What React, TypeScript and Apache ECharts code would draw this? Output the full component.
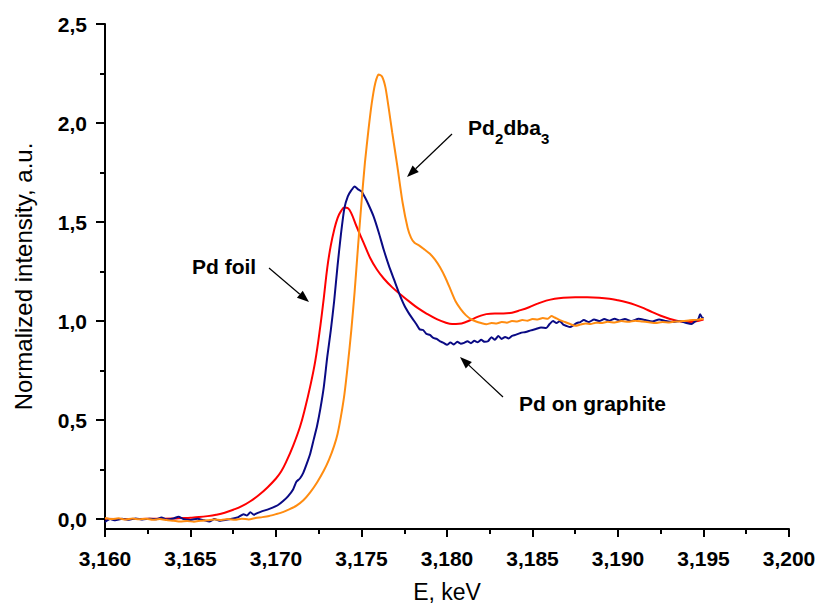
import React, { useEffect, useRef } from "react";
import * as echarts from "echarts";

// Energy (keV) vs normalized intensity
const pdFoil: [number, number][] = [
  [3.16, 0.002], [3.161, 0.001], [3.162, 0.001], [3.163, 0.002], [3.164, 0.003], [3.1645, 0.005],
  [3.165, 0.007], [3.1655, 0.01], [3.166, 0.015], [3.1665, 0.022], [3.167, 0.032], [3.1675, 0.047],
  [3.168, 0.065], [3.1685, 0.09], [3.169, 0.122], [3.1695, 0.16], [3.17, 0.205], [3.1703, 0.24],
  [3.1706, 0.29], [3.171, 0.37], [3.1714, 0.465], [3.1717, 0.56], [3.172, 0.67], [3.1723, 0.8],
  [3.1726, 0.98], [3.1728, 1.12], [3.173, 1.27], [3.1732, 1.38], [3.1734, 1.46], [3.1736, 1.52],
  [3.1738, 1.555], [3.174, 1.573], [3.1742, 1.57], [3.1744, 1.545], [3.1747, 1.48], [3.1751, 1.4],
  [3.1755, 1.32], [3.1759, 1.26], [3.1763, 1.215], [3.1768, 1.17], [3.1773, 1.133], [3.1778, 1.098],
  [3.1783, 1.065], [3.1788, 1.038], [3.1794, 1.01], [3.1799, 0.993], [3.1803, 0.985], [3.1807, 0.986],
  [3.1811, 0.995], [3.1815, 1.01], [3.1819, 1.025], [3.1823, 1.035], [3.1828, 1.038], [3.1833, 1.038],
  [3.1838, 1.042], [3.1843, 1.055], [3.1848, 1.07], [3.1853, 1.088], [3.1858, 1.103], [3.1863, 1.113],
  [3.1868, 1.118], [3.1875, 1.12], [3.1882, 1.12], [3.1889, 1.118], [3.1895, 1.113], [3.19, 1.105],
  [3.1905, 1.095], [3.191, 1.082], [3.1915, 1.065], [3.192, 1.045], [3.1925, 1.027], [3.193, 1.012],
  [3.1935, 1.0], [3.194, 0.995], [3.1945, 0.998], [3.195, 1.008],
];

const pdOnGraphite: [number, number][] = [
  [3.16, -0.015], [3.1603, 0.0], [3.1606, -0.006], [3.161, 0.002], [3.1614, -0.003], [3.1618, 0.003],
  [3.1622, -0.002], [3.1626, 0.002], [3.163, -0.001], [3.1633, 0.008], [3.1636, -0.002], [3.164, 0.003],
  [3.1643, 0.012], [3.1646, 0.0], [3.165, -0.004], [3.1654, 0.002], [3.1658, -0.006], [3.1661, -0.012],
  [3.1664, 0.0], [3.1667, -0.008], [3.1671, -0.003], [3.1675, 0.003], [3.1678, 0.01], [3.1681, 0.025],
  [3.1683, 0.018], [3.1685, 0.035], [3.1687, 0.022], [3.1689, 0.03], [3.1692, 0.04], [3.1695, 0.048],
  [3.1698, 0.058], [3.1701, 0.07], [3.1704, 0.09], [3.1707, 0.115], [3.171, 0.15], [3.1712, 0.19],
  [3.1714, 0.205], [3.1716, 0.235], [3.1718, 0.28], [3.172, 0.33], [3.1722, 0.4], [3.1724, 0.47],
  [3.1726, 0.56], [3.1728, 0.67], [3.173, 0.82], [3.1732, 0.95], [3.1734, 1.1], [3.1736, 1.28],
  [3.1738, 1.44], [3.174, 1.57], [3.1742, 1.63], [3.1744, 1.66], [3.1746, 1.68], [3.1748, 1.665],
  [3.175, 1.655], [3.1752, 1.625], [3.1754, 1.59], [3.1757, 1.53], [3.176, 1.45], [3.1763, 1.36],
  [3.1766, 1.28], [3.1769, 1.21], [3.1772, 1.14], [3.1775, 1.08], [3.1778, 1.035], [3.178, 1.01],
  [3.1782, 0.985], [3.1784, 0.958], [3.1786, 0.955], [3.1788, 0.935], [3.179, 0.93], [3.1792, 0.915],
  [3.1794, 0.91], [3.1796, 0.897], [3.1798, 0.89], [3.18, 0.88], [3.1802, 0.892], [3.1804, 0.882],
  [3.1806, 0.895], [3.1808, 0.886], [3.181, 0.89], [3.1812, 0.898], [3.1814, 0.888], [3.1816, 0.9],
  [3.1818, 0.893], [3.182, 0.905], [3.1822, 0.895], [3.1824, 0.898], [3.1826, 0.918], [3.1828, 0.905],
  [3.183, 0.925], [3.1832, 0.91], [3.1834, 0.92], [3.1836, 0.912], [3.1838, 0.925], [3.184, 0.93],
  [3.1843, 0.94], [3.1846, 0.945], [3.1849, 0.953], [3.1852, 0.96], [3.1855, 0.968], [3.1858, 0.965],
  [3.186, 0.985], [3.1862, 1.0], [3.1864, 0.99], [3.1866, 1.0], [3.1868, 0.982], [3.187, 0.975],
  [3.1872, 0.97], [3.1874, 0.98], [3.1876, 0.99], [3.1878, 0.995], [3.188, 1.005], [3.1883, 0.995],
  [3.1886, 1.008], [3.1889, 1.0], [3.1892, 1.01], [3.1895, 1.002], [3.1898, 1.012], [3.1901, 1.003],
  [3.1904, 1.01], [3.1908, 1.0], [3.1912, 1.012], [3.1916, 1.005], [3.192, 0.998], [3.1924, 1.008],
  [3.1928, 1.0], [3.1932, 0.995], [3.1936, 1.0], [3.194, 0.99], [3.1943, 0.985], [3.1945, 0.998],
  [3.1947, 1.01], [3.1948, 1.035], [3.1949, 1.02], [3.195, 1.015],
];

const pd2dba3: [number, number][] = [
  [3.16, 0.006], [3.1604, 0.0], [3.1608, 0.004], [3.1612, -0.002], [3.1616, 0.003], [3.162, -0.001],
  [3.1624, 0.002], [3.1628, -0.003], [3.1632, 0.0], [3.1636, -0.005], [3.164, -0.008], [3.1644, -0.012],
  [3.1648, -0.01], [3.1652, -0.013], [3.1656, -0.008], [3.166, -0.006], [3.1664, -0.002], [3.1668, -0.004],
  [3.1672, 0.0], [3.1676, -0.003], [3.168, 0.002], [3.1684, -0.002], [3.1688, 0.005], [3.1692, 0.01],
  [3.1696, 0.016], [3.17, 0.025], [3.1704, 0.035], [3.1708, 0.05], [3.1712, 0.068], [3.1716, 0.095],
  [3.172, 0.135], [3.1724, 0.185], [3.1728, 0.245], [3.1731, 0.3], [3.1734, 0.37], [3.1736, 0.43],
  [3.1738, 0.52], [3.174, 0.63], [3.1742, 0.78], [3.1744, 0.95], [3.1746, 1.15], [3.1748, 1.38],
  [3.175, 1.6], [3.1752, 1.8], [3.1754, 1.96], [3.1756, 2.1], [3.1758, 2.2], [3.176, 2.245],
  [3.1762, 2.235], [3.1764, 2.18], [3.1766, 2.07], [3.1768, 1.95], [3.1771, 1.78], [3.1774, 1.6],
  [3.1777, 1.47], [3.1779, 1.42], [3.1781, 1.395], [3.1784, 1.38], [3.1787, 1.36], [3.179, 1.34],
  [3.1793, 1.31], [3.1796, 1.27], [3.1799, 1.22], [3.1802, 1.16], [3.1805, 1.1], [3.1808, 1.06],
  [3.1811, 1.03], [3.1814, 1.01], [3.1817, 0.998], [3.182, 0.99], [3.1823, 0.984], [3.1826, 0.99],
  [3.1829, 0.988], [3.1832, 0.995], [3.1835, 0.992], [3.1838, 1.0], [3.1841, 0.998], [3.1844, 1.005],
  [3.1847, 1.002], [3.185, 1.01], [3.1853, 1.008], [3.1856, 1.015], [3.1859, 1.012], [3.1861, 1.025],
  [3.1863, 1.018], [3.1866, 1.005], [3.1869, 0.995], [3.1872, 0.985], [3.1875, 0.976], [3.1878, 0.982],
  [3.1881, 0.988], [3.1884, 0.985], [3.1887, 0.992], [3.189, 0.99], [3.1894, 0.996], [3.1898, 0.993],
  [3.1902, 1.0], [3.1906, 0.996], [3.191, 1.002], [3.1914, 0.998], [3.1918, 0.994], [3.1922, 0.99],
  [3.1926, 0.995], [3.193, 0.993], [3.1934, 0.998], [3.1938, 1.0], [3.1942, 1.004], [3.1946, 1.006],
  [3.195, 1.012],
];

const yMajorTicks = [0, 0.5, 1.0, 1.5, 2.0, 2.5];
const yMinorTicks = [0.25, 0.75, 1.25, 1.75, 2.25];

const FONT = "'Liberation Sans', Arial, Helvetica, sans-serif";

function arrow(x1: number, y1: number, x2: number, y2: number) {
  const dx = x2 - x1;
  const dy = y2 - y1;
  const len = Math.sqrt(dx * dx + dy * dy);
  const ux = dx / len;
  const uy = dy / len;
  const hl = 12;
  const hw = 4.5;
  const bx = x2 - ux * hl;
  const by = y2 - uy * hl;
  return [
    {
      type: "line",
      shape: { x1, y1, x2: bx, y2: by },
      style: { stroke: "#000", lineWidth: 1.2 },
      silent: true,
    },
    {
      type: "polygon",
      shape: {
        points: [
          [x2, y2],
          [bx - uy * hw, by + ux * hw],
          [bx + uy * hw, by - ux * hw],
        ],
      },
      style: { fill: "#000" },
      silent: true,
    },
  ];
}

function label(text: string, x: number, y: number, size: number) {
  return {
    type: "text",
    x,
    y,
    silent: true,
    style: {
      text,
      fill: "#000",
      font: `bold ${size}px ${FONT}`,
      align: "left",
      verticalAlign: "middle",
    },
  };
}

export default function App() {
  const ref = useRef<HTMLDivElement>(null);

  useEffect(() => {
    if (!ref.current) return;
    const chart = echarts.init(ref.current, null, { renderer: "svg" });
    const comma = (v: number, d: number) => v.toFixed(d).replace(".", ",");

    chart.setOption({
      animation: false,
      backgroundColor: "#fff",
      grid: { left: 105, right: 30, top: 24, bottom: 75, containLabel: false },
      xAxis: {
        type: "value",
        min: 3.16,
        max: 3.2,
        interval: 0.005,
        name: "E, keV",
        nameLocation: "middle",
        nameGap: 51,
        nameTextStyle: { fontFamily: FONT, fontSize: 23, color: "#000" },
        axisLine: { onZero: false, lineStyle: { color: "#000", width: 2 } },
        axisTick: { show: true, length: 8, lineStyle: { color: "#000", width: 2 } },
        minorTick: { show: true, splitNumber: 2, length: 5, lineStyle: { color: "#000", width: 2 } },
        axisLabel: {
          margin: 19,
          fontFamily: FONT,
          fontSize: 21,
          fontWeight: "bold",
          color: "#000",
          formatter: (v: number) => comma(v, 3),
        },
        splitLine: { show: false },
        minorSplitLine: { show: false },
      },
      yAxis: [
        {
          type: "value",
          min: -0.05,
          max: 2.5,
          name: "Normalized intensity, a.u.",
          nameLocation: "middle",
          nameGap: 70,
          nameTextStyle: { fontFamily: FONT, fontSize: 24, color: "#000" },
          axisLine: { show: true, onZero: false, lineStyle: { color: "#000", width: 2 } },
          axisTick: { show: true, length: 9, customValues: yMajorTicks, lineStyle: { color: "#000", width: 2 } },
          axisLabel: {
            margin: 18,
            customValues: yMajorTicks,
            fontFamily: FONT,
            fontSize: 21,
            fontWeight: "bold",
            color: "#000",
            formatter: (v: number) => comma(v, 1),
          },
          splitLine: { show: false },
        },
        {
          type: "value",
          min: -0.05,
          max: 2.5,
          position: "left",
          axisLine: { show: false, onZero: false },
          axisTick: { show: true, length: 5, customValues: yMinorTicks, lineStyle: { color: "#000", width: 2 } },
          axisLabel: { show: false, customValues: yMinorTicks },
          splitLine: { show: false },
        },
      ],
      series: [
        {
          name: "Pd foil",
          type: "line",
          data: pdFoil,
          showSymbol: false,
          symbol: "none",
          smooth: 0.4,
          lineStyle: { color: "#ff0000", width: 2 },
          itemStyle: { color: "#ff0000" },
          z: 2,
        },
        {
          name: "Pd on graphite",
          type: "line",
          data: pdOnGraphite,
          showSymbol: false,
          symbol: "none",
          smooth: 0.2,
          lineStyle: { color: "#0a0a84", width: 2 },
          itemStyle: { color: "#0a0a84" },
          z: 3,
        },
        {
          name: "Pd2dba3",
          type: "line",
          data: pd2dba3,
          showSymbol: false,
          symbol: "none",
          smooth: 0.2,
          lineStyle: { color: "#ff8c10", width: 2 },
          itemStyle: { color: "#ff8c10" },
          z: 4,
        },
      ],
      graphic: [
        label("Pd foil", 192, 266, 21),
        ...arrow(269, 268, 309, 302),
        label("Pd", 468, 127, 21),
        label("2", 495, 138, 15),
        label("dba", 503.5, 127, 21),
        label("3", 541, 138, 15),
        ...arrow(452, 134, 407, 177),
        label("Pd on graphite", 519, 403, 21),
        ...arrow(503, 397, 460, 357),
      ],
    });

    return () => chart.dispose();
  }, []);

  return (
    <div
      ref={ref}
      style={{ position: "fixed", left: 0, top: 0, width: 819, height: 608, background: "#fff" }}
    />
  );
}
